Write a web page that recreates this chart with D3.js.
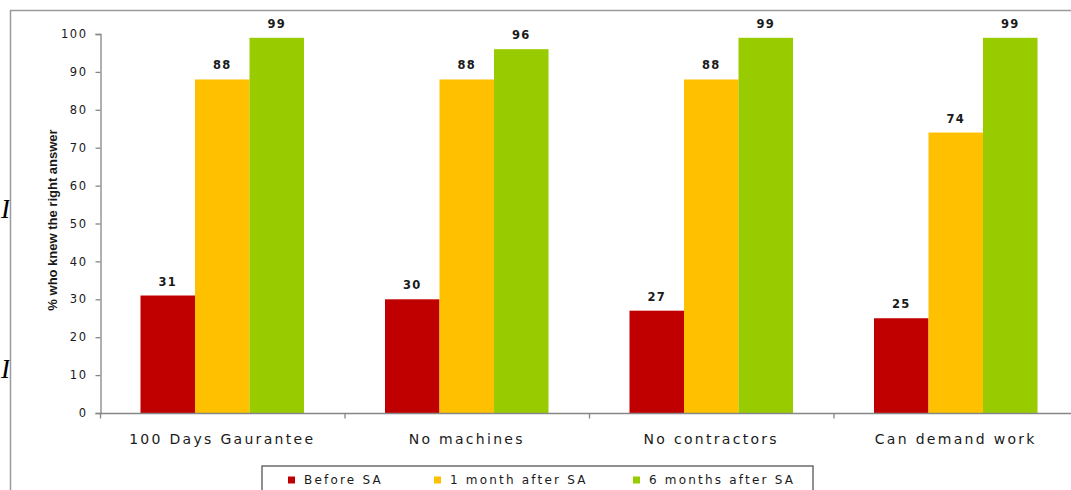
<!DOCTYPE html>
<html>
<head>
<meta charset="utf-8">
<script src="https://cdn.jsdelivr.net/npm/d3@7"></script>
<style>
  html, body { margin: 0; padding: 0; background: #fff; }
  svg { display: block; }
  text { font-family: "DejaVu Sans", Verdana, sans-serif; fill: #1a1a1a; }
</style>
</head>
<body>
<svg id="chart" width="1071" height="490"></svg>
<script>
// Survey results: share of respondents who knew the right answer
const categories = ["100 Days Gaurantee", "No machines", "No contractors", "Can demand work"];
const seriesNames = ["Before SA", "1 month after SA", "6 months after SA"];
const beforeSA = [31, 30, 27, 25];
const oneMonthAfterSA = [88, 88, 88, 74];
const sixMonthsAfterSA = [99, 96, 99, 99];
const yTicks = [0, 10, 20, 30, 40, 50, 60, 70, 80, 90, 100];
const seriesColors = ["#C00000", "#FFC000", "#99CC00"];
const yTitle = "% who knew the right answer";

const seriesValues = [beforeSA, oneMonthAfterSA, sixMonthsAfterSA];
const rows = categories.map((c, i) => ({
  category: c,
  values: seriesNames.map((s, j) => ({ series: s, value: seriesValues[j][i] }))
}));

const svg = d3.select("#chart");
const axisGrey = "#868686";

// Outer frame (top and left edges)
svg.append("line").attr("x1", 10).attr("x2", 1071).attr("y1", 10.5).attr("y2", 10.5)
  .attr("stroke", "#9a9a9a").attr("stroke-width", 1.5);
svg.append("line").attr("x1", 10.5).attr("x2", 10.5).attr("y1", 10).attr("y2", 490)
  .attr("stroke", "#9a9a9a").attr("stroke-width", 1.5);

// Stray glyphs peeking in at the left edge
const defs = svg.append("defs");
defs.append("clipPath").attr("id", "leftEdge")
  .append("rect").attr("x", 0).attr("y", 0).attr("width", 9.5).attr("height", 490);
[218, 378].forEach(b => {
  svg.append("text").attr("x", 1).attr("y", b)
    .attr("clip-path", "url(#leftEdge)")
    .style("font-family", "'Liberation Serif', serif")
    .style("font-style", "italic").style("font-size", "27px").style("fill", "#000")
    .text("I");
});

const x0 = d3.scaleBand().domain(categories).range([100, 1078]).paddingInner(0).paddingOuter(0);
const x1 = d3.scaleBand().domain(seriesNames).range([0, x0.bandwidth()])
  .paddingInner(0).paddingOuter(0.743);
const y = d3.scaleLinear().domain([0, 100]).range([413, 34]);

// Y axis
const yAxis = svg.append("g").attr("transform", "translate(100.5,0)")
  .call(d3.axisLeft(y).tickValues(yTicks).tickSize(5).tickPadding(8));
yAxis.select(".domain").attr("stroke", axisGrey).attr("stroke-width", 1.3);
yAxis.selectAll(".tick line").attr("stroke", axisGrey).attr("stroke-width", 1.3);
yAxis.selectAll(".tick text")
  .style("font-family", "'DejaVu Sans', Verdana, sans-serif")
  .style("font-size", "11.5px").style("letter-spacing", "1.5px").attr("fill", "#1a1a1a");

// Bars
const groups = svg.append("g").selectAll("g").data(rows).join("g")
  .attr("transform", d => `translate(${x0(d.category)},0)`);
groups.selectAll("rect").data(d => d.values).join("rect")
  .attr("x", d => x1(d.series))
  .attr("width", x1.bandwidth())
  .attr("y", d => y(d.value))
  .attr("height", d => y(0) - y(d.value))
  .attr("fill", (d, i) => seriesColors[i]);

// Value labels
groups.selectAll("text.val").data(d => d.values).join("text")
  .attr("class", "val")
  .attr("x", d => x1(d.series) + x1.bandwidth() / 2)
  .attr("y", d => y(d.value) - 10)
  .attr("text-anchor", "middle")
  .style("font-size", "11.5px").style("font-weight", "bold").style("letter-spacing", "1.3px")
  .text(d => d.value);

// X axis
const xAxisG = svg.append("g").attr("transform", "translate(0,413.5)");
xAxisG.append("line").attr("x1", 100).attr("x2", 1071).attr("stroke", axisGrey).attr("stroke-width", 1.3);
xAxisG.selectAll("line.tick").data(categories).join("line")
  .attr("class", "tick")
  .attr("x1", d => x0(d) + 0.5).attr("x2", d => x0(d) + 0.5)
  .attr("y1", 0).attr("y2", 5).attr("stroke", axisGrey).attr("stroke-width", 1.3);
xAxisG.selectAll("text").data(categories).join("text")
  .attr("x", d => x0(d) + x0.bandwidth() / 2)
  .attr("y", 30)
  .attr("text-anchor", "middle")
  .style("font-size", "14px").style("letter-spacing", "2.3px")
  .text(d => d);

// Y axis title
svg.append("text")
  .attr("transform", "translate(57,220) rotate(-90)")
  .attr("text-anchor", "middle")
  .style("font-family", "'Liberation Sans', Arial, sans-serif")
  .style("font-size", "13px").style("font-weight", "bold").style("letter-spacing", "0px")
  .text(yTitle);

// Legend
const legend = svg.append("g");
legend.append("rect").attr("x", 262).attr("y", 466).attr("width", 551).attr("height", 40)
  .attr("fill", "#fff").attr("stroke", "#555").attr("stroke-width", 1.3);
const legendX = [288, 434, 633];
seriesNames.forEach((s, i) => {
  legend.append("rect").attr("x", legendX[i]).attr("y", 476.5).attr("width", 7).attr("height", 7)
    .attr("fill", seriesColors[i]);
  legend.append("text").attr("x", legendX[i] + 16).attr("y", 484)
    .style("font-size", "12px").style("letter-spacing", "2.2px")
    .text(s);
});
</script>
</body>
</html>
